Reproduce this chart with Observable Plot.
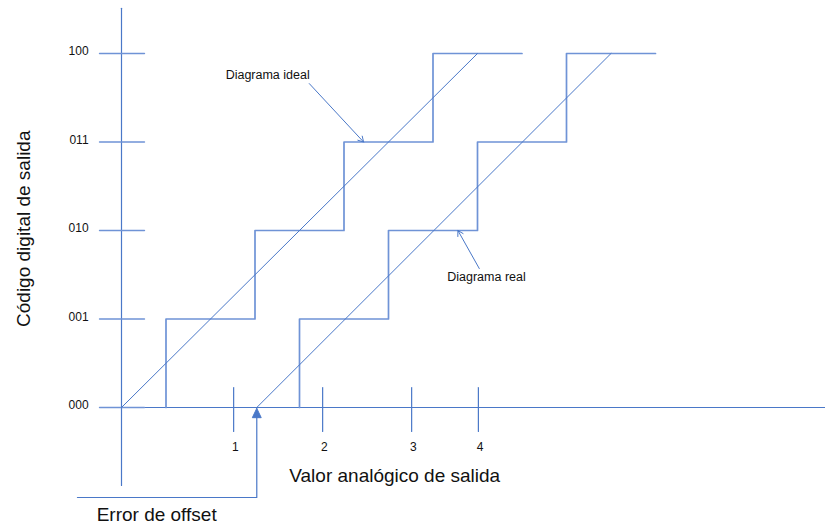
<!DOCTYPE html>
<html><head><meta charset="utf-8">
<script src="https://cdn.jsdelivr.net/npm/d3@7"></script>
<script src="https://cdn.jsdelivr.net/npm/@observablehq/plot@0.6"></script>
<style>body{margin:0;background:#fff}svg{display:block}</style>
</head><body><div id="chart"></div>
<script>
// Output codes (y) and their labels
const codeLevels = [0, 1, 2, 3, 4];
const codeLabels = ["000", "001", "010", "011", "100"];
// Analog tick positions (x) and labels
const analogTicks = [1.26, 2.26, 3.26, 4.01];
const analogLabels = ["1", "2", "3", "4"];
// Ideal transfer: transitions at these x values, last value = end of top step
const idealSteps = [0.5, 1.5, 2.5, 3.5, 4.5];
// Real transfer (with offset)
const realSteps = [2.0, 3.0, 4.0, 5.0, 6.0];
const offsetError = 1.52;
// Diagonals (ideal and real)
const idealLine = [[0, 0], [4.0, 4]];
const realLine = [[offsetError, 0], [5.5, 4]];

function stairs(steps) {
  const pts = [];
  steps.forEach((s, i) => {
    if (i < steps.length - 1) { pts.push([s, i]); pts.push([s, i + 1]); }
    else pts.push([s, i]);
  });
  return pts;
}
const idealStair = stairs(idealSteps);
const realStair = stairs(realSteps);

const blue = "#4a78c8";
const stairBlue = "#6f93d6";
const font = "'Liberation Sans', Arial, sans-serif";

const yTickMarks = codeLevels.flatMap(v => [{x: -0.247, y: v, k: v}, {x: 0.258, y: v, k: v}]);
const xTickMarks = analogTicks.flatMap(v => [{x: v, y: 0.226, k: v}, {x: v, y: -0.271, k: v}]);
const arrowHead = [[offsetError, -0.01], [offsetError - 0.05, -0.115], [offsetError + 0.05, -0.115], [offsetError, -0.01]];
const bracket = [[-0.495, -1.017], [offsetError, -1.017], [offsetError, -0.1]];

const chart = Plot.plot({
  width: 825, height: 525,
  margin: 0,
  x: {domain: [0, 8], range: [121, 121 + 8 * 89], axis: null},
  y: {domain: [0, 4], range: [407, 53], axis: null},
  style: {fontFamily: font, background: "#fff"},
  marks: [
    // axes
    Plot.line([[0, -0.88], [0, 4.51]], {stroke: blue, strokeWidth: 1.2}),
    Plot.line([[0, 0], [7.95, 0]], {stroke: blue, strokeWidth: 1.2}),
    Plot.line(yTickMarks, {x: "x", y: "y", z: "k", stroke: stairBlue, strokeWidth: 1.4}),
    Plot.line(xTickMarks, {x: "x", y: "y", z: "k", stroke: blue, strokeWidth: 1.2}),
    Plot.text(codeLevels, {x: -0.37, y: d => d, text: (d, i) => codeLabels[i], textAnchor: "end", dy: -2, fontSize: 12, fill: "#111"}),
    Plot.text(analogTicks, {x: d => d + 0.02, y: -0.45, text: (d, i) => analogLabels[i], fontSize: 12, fill: "#111"}),
    // staircases
    Plot.line(idealStair, {stroke: stairBlue, strokeWidth: 1.7}),
    Plot.line(realStair, {stroke: stairBlue, strokeWidth: 1.7}),
    // diagonals
    Plot.line(idealLine, {stroke: blue, strokeWidth: 1}),
    Plot.line(realLine, {stroke: blue, strokeWidth: 1}),
    // annotations
    Plot.text(["Diagrama ideal"], {x: 1.17, y: 3.76, text: d => d, textAnchor: "start", fontSize: 12.5, fill: "#111"}),
    Plot.arrow([{x1: 2.11, y1: 3.66, x2: 2.72, y2: 3.0}], {x1: "x1", y1: "y1", x2: "x2", y2: "y2", stroke: blue, strokeWidth: 1, headLength: 9}),
    Plot.text(["Diagrama real"], {x: 3.66, y: 1.47, text: d => d, textAnchor: "start", fontSize: 12.5, fill: "#111"}),
    Plot.arrow([{x1: 4.02, y1: 1.57, x2: 3.78, y2: 2.0}], {x1: "x1", y1: "y1", x2: "x2", y2: "y2", stroke: blue, strokeWidth: 1, headLength: 9}),
    // offset error bracket
    Plot.line(bracket, {stroke: blue, strokeWidth: 1.2}),
    Plot.line(arrowHead, {stroke: blue, fill: blue, strokeWidth: 1}),
    // titles
    Plot.text(["Valor analógico de salida"], {x: 3.07, y: -0.77, text: d => d, fontSize: 19, fill: "#111"}),
    Plot.text(["Error de offset"], {x: 0.395, y: -1.21, text: d => d, fontSize: 19, fill: "#111"}),
    Plot.text(["Código digital de salida"], {x: -1.10, y: 2.02, text: d => d, rotate: -90, fontSize: 19, fill: "#111"})
  ]
});
document.getElementById("chart").append(chart);
</script>
</body></html>
